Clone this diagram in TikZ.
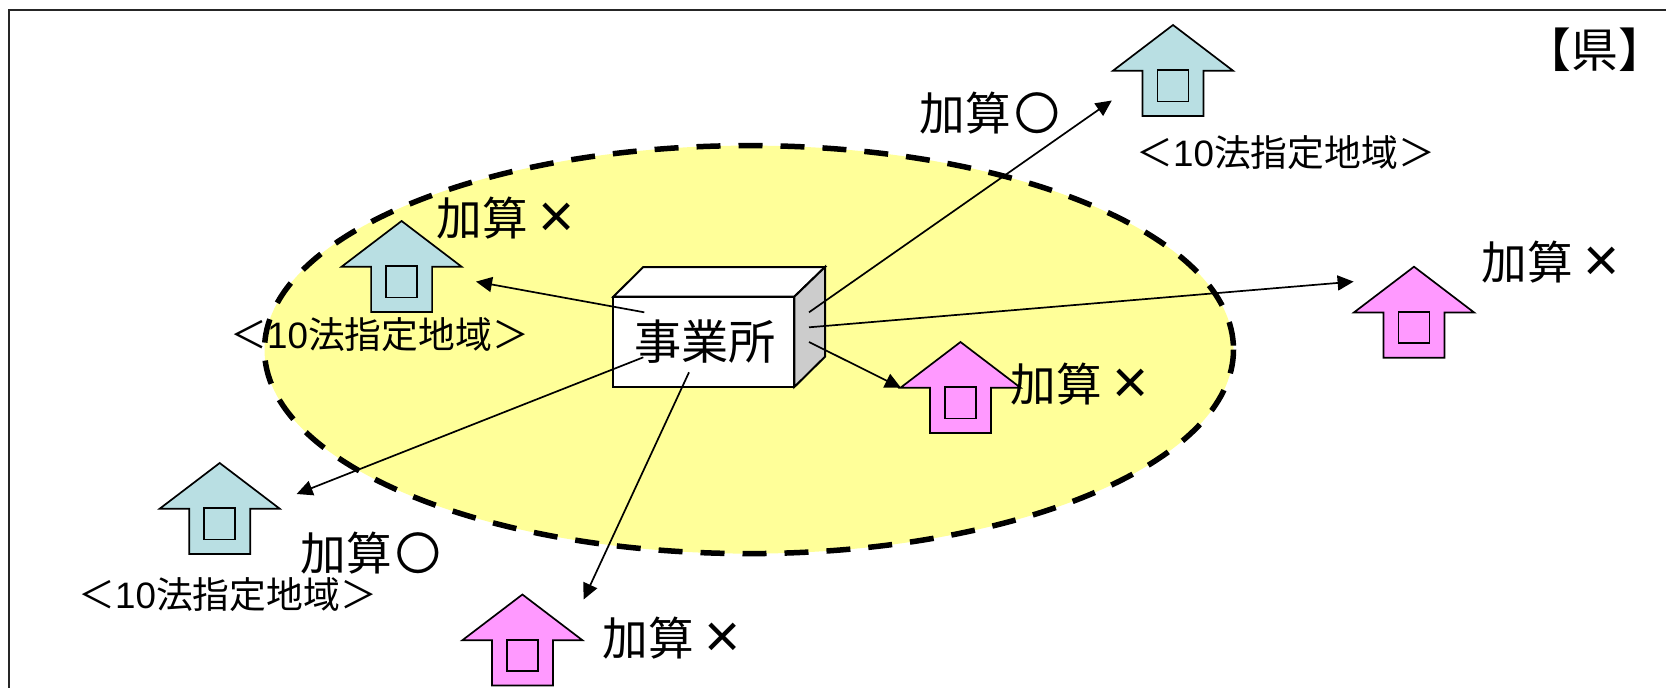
\documentclass[tikz,border=0pt]{standalone}
\usepackage{fontspec}
\setmainfont{Liberation Sans}
\newfontfamily\cjk{Noto Sans CJK JP}
\newcommand{\housepic}[3]{%
  \coordinate (#1) at (#2);
  \draw[houseline,fill=#3] (#1) -- ++(60,45.7) -- ++(-29.5,0) -- ++(0,45.3) -- ++(-61,0) -- ++(0,-45.3) -- ++(-29.5,0) -- cycle;
  \draw[houseline] ($(#1)+(-15.5,45.2)$) rectangle ($(#1)+(15.5,76.5)$);
}
\newcommand{\crossmark}{{\rmfamily\fontsize{31}{31}\selectfont\raisebox{-1pt}{×}}}
\usetikzlibrary{calc,arrows.meta}
\definecolor{houseblue}{HTML}{B9DFE3}
\definecolor{housepink}{HTML}{FF99FF}
\definecolor{zoneyellow}{HTML}{FFFF99}
\definecolor{boxgrey}{HTML}{CCCCCC}
\tikzset{
  x=0.5pt,y=-0.5pt,
  houseline/.style={draw=black,line width=0.85pt,line join=miter},
  boxline/.style={draw=black,line width=1pt,line join=miter},
  link/.style={draw=black,line width=0.85pt,-{Triangle[length=8pt,width=7.5pt]}},
  bigtext/.style={font=\cjk\fontsize{22.8}{24}\selectfont,inner sep=0pt,anchor=west},
  smalltext/.style={font=\cjk\fontsize{18.4}{20}\selectfont,inner sep=0pt,anchor=west},
}
\begin{document}
\begin{tikzpicture}
\useasboundingbox (0,0) rectangle (1666,687);
\fill[white] (0,0) rectangle (1666,687);
\draw[black!85,line width=1pt] (8.5,690) -- (8.5,9.5) -- (1670,9.5);
\draw[fill=zoneyellow,draw=none] (749,349.6) ellipse [x radius=484.5,y radius=204];
\draw[line width=2.75pt,dash pattern=on 12pt off 9pt,black] (749,349.6) ellipse [x radius=484.5,y radius=204];
% office box
\draw[boxline,fill=white] (613.3,296.7) -- (643.3,267) -- (825,267) -- (794.3,296.7) -- cycle;
\draw[boxline,fill=boxgrey] (794.3,296.7) -- (825,267) -- (825,356.7) -- (794.3,387) -- cycle;
\node[boxline,fill=white,minimum width=90.5pt,minimum height=45.15pt,inner sep=0pt,font=\cjk\fontsize{23.6}{26}\selectfont] (office) at (703.8,341.85) {\hspace{1.5pt}事業所};
% houses
\housepic{hA}{1173,25}{houseblue}
\housepic{hB}{401.6,221}{houseblue}
\housepic{hC}{219.7,463}{houseblue}
\housepic{hD}{522.4,594.5}{housepink}
\housepic{hE}{960.5,342}{housepink}
\housepic{hF}{1414,266.7}{housepink}
% connector anchors
\coordinate (sL) at (644.3,312.3);
\coordinate (sTR) at (809,312.3);
\coordinate (sR) at (809,327.3);
\coordinate (sBR) at (809,342);
\coordinate (sLL) at (643.3,357.3);
\coordinate (sB) at (689,372.3);
\coordinate (eB) at (476,281.6);
\coordinate (eA) at (1111.8,100.5);
\coordinate (eF) at (1353.6,281.6);
\coordinate (eE) at (901,387.8);
\coordinate (eC) at (296.6,494);
\coordinate (eD) at (583.6,599.5);
\draw[link] (sL) -- (eB);
\draw[link] (sTR) -- (eA);
\draw[link] (sR) -- (eF);
\draw[link] (sBR) -- (eE);
\draw[link] (sLL) -- (eC);
\draw[link] (sB) -- (eD);
% labels
\node[bigtext] (t1) at (919,113) {加算\hspace{2pt}〇};
\node[bigtext] (t2) at (436,218) {加算\hspace{5.5pt}\crossmark};
\node[bigtext] (t3) at (1481,262) {加算\hspace{5.5pt}\crossmark};
\node[bigtext] (t4) at (1010,384) {加算\hspace{5.5pt}\crossmark};
\node[bigtext] (t5) at (300,553) {加算\hspace{2pt}〇};
\node[bigtext] (t6) at (602,638) {加算\hspace{5.5pt}\crossmark};
\node[font=\cjk\fontsize{23.4}{26}\selectfont,inner sep=0pt,anchor=west] (t7) at (1524,50) {【県】};
\node[smalltext] (s1) at (1136,153) {＜{\rmfamily 10}法指定地域＞};
\node[smalltext] (s2) at (230,335) {＜{\rmfamily 10}法指定地域＞};
\node[smalltext] (s3) at (78,595) {＜{\rmfamily 10}法指定地域＞};
\end{tikzpicture}
\end{document}
